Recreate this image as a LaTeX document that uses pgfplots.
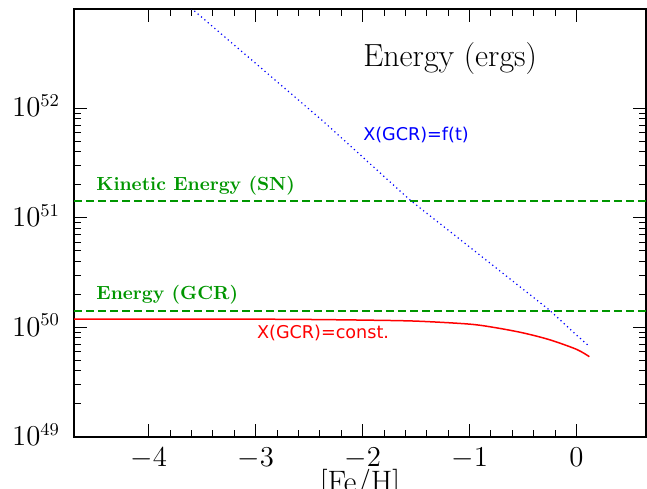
\documentclass[border=0pt]{standalone}
\usepackage{pgfplots}
\pgfplotsset{compat=1.18}
\usepackage{fontspec}
\newfontfamily\labelsans{DejaVu Sans}
\definecolor{lblgreen}{RGB}{0,150,0}

\begin{document}
\begin{tikzpicture}
\begin{axis}[
  at={(0,0)}, anchor=south west,
  scale only axis,
  width=286pt, height=213.85pt,
  xmin=-4.7, xmax=0.65,
  ymode=log, ymin=1e49, ymax=8e52,
  xtick={-4,-3,-2,-1,0},
  minor x tick num=4,
  ytick={1e49,1e50,1e51,1e52},
  major tick length=6.5pt,
  minor tick length=3.5pt,
  axis line style={line width=0.9pt},
  every tick/.style={black, line width=0.5pt},
  tick label style={font=\fontsize{13.5}{16}\selectfont},
  yticklabel style={anchor=base east, yshift=-4.4pt, xshift=-3.5pt},
  xticklabel style={yshift=-2pt},
  xlabel={[Fe/H]},
  xlabel style={font=\fontsize{15.5}{18}\selectfont, at={(axis description cs:0.5,0)}, anchor=north, yshift=-16pt, inner sep=0pt},
]
% reference energies
\addplot[lblgreen, line width=0.9pt, dash pattern=on 4pt off 2pt] coordinates {(-4.7,1.42e51) (0.65,1.42e51)};
\addplot[lblgreen, line width=0.9pt, dash pattern=on 4pt off 2pt] coordinates {(-4.7,1.42e50) (0.65,1.42e50)};
% time-dependent GCR fraction
\addplot[blue, line width=0.6pt, dash pattern=on 0.6pt off 1.6pt] coordinates {
  (-3.7,9.8e52) (-3.59,7.96e52) (-3.0,2.56e52) (-2.38,7.76e51)
  (-2.0,3.58e51) (-1.555,1.445e51) (-1.0,5.41e50) (-0.25,1.43e50)
  (0.0,8.5e49) (0.12,6.7e49)};
% constant GCR fraction
\addplot[red, line width=0.75pt, smooth, tension=0.5] coordinates {
  (-4.7,1.19e50) (-3.5,1.19e50) (-3.0,1.188e50) (-2.5,1.18e50) (-2.0,1.165e50)
  (-1.5,1.14e50) (-1.0,1.07e50) (-0.75,9.9e49) (-0.5,8.9e49)
  (-0.25,7.7e49) (0.0,6.3e49) (0.12,5.4e49)};
\node[anchor=base west, font=\fontsize{16}{18}\selectfont, inner sep=0pt] at (rel axis cs:0.505,0.865) {Energy (ergs)};
\node[anchor=base west, text=blue, font=\labelsans\fontsize{8.8}{10}\selectfont, inner sep=0pt] at (rel axis cs:0.505,0.693) {X(GCR)=f(t)};
\node[anchor=base west, text=red, font=\labelsans\fontsize{8.8}{10}\selectfont, inner sep=0pt] at (rel axis cs:0.3194,0.2308) {X(GCR)=const.};
\node[anchor=base west, text=lblgreen, font=\fontsize{9.5}{11}\selectfont\bfseries, inner sep=0pt] at (rel axis cs:0.0385,0.5759) {Kinetic Energy (SN)};
\node[anchor=base west, text=lblgreen, font=\fontsize{9.5}{11}\selectfont\bfseries, inner sep=0pt] at (rel axis cs:0.0385,0.3203) {Energy (GCR)};
\end{axis}
\pgfresetboundingbox
\useasboundingbox (-37pt,-25.5pt) rectangle (286.5pt,218.5pt);
\end{tikzpicture}
\end{document}
